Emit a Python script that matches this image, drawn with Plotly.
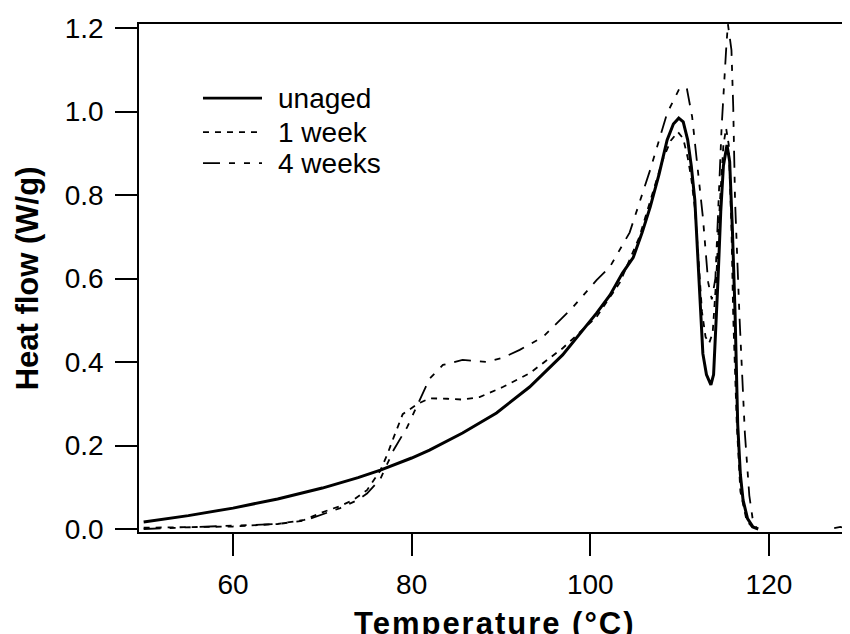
import plotly.graph_objects as go

# ---------------- data ----------------
t_unaged = [50, 55, 60, 65, 70, 74, 76.5, 80, 82, 85.7, 89.5, 93.2, 96.9, 100.7, 102.2,
            103.6, 104.8, 105.8, 106.7, 107.7, 108.6, 109.3, 109.9, 110.4, 110.9, 111.3,
            111.7, 112.0, 112.3, 112.6, 113.0, 113.5, 113.8, 114.0, 114.3, 114.6, 114.9,
            115.3, 115.6, 115.9, 116.2, 116.5, 116.8, 117.1, 117.6, 118.2, 118.8]
hf_unaged = [0.017, 0.032, 0.050, 0.072, 0.098, 0.123, 0.141, 0.170, 0.189, 0.230, 0.278,
             0.340, 0.417, 0.517, 0.560, 0.613, 0.650, 0.710, 0.771, 0.850, 0.932, 0.970,
             0.984, 0.975, 0.932, 0.870, 0.788, 0.670, 0.548, 0.420, 0.370, 0.345, 0.370,
             0.450, 0.600, 0.760, 0.870, 0.920, 0.880, 0.720, 0.520, 0.250, 0.130, 0.069,
             0.025, 0.005, 0.000]

t_1week = [50, 55, 60, 65, 68, 70, 72, 73.5, 75, 76.5, 77.3, 78, 79, 80.7, 82, 84, 85.7,
           87.6, 90.2, 93.2, 96.9, 100.7, 103.3, 105.5, 106.8, 108.1, 109.0, 109.8, 110.4,
           110.9, 111.3, 111.7, 112.1, 112.5, 112.9, 113.3, 113.7, 114.1, 114.5, 114.9,
           115.2, 115.5, 115.8, 116.0, 116.4, 116.8, 117.5, 118.3]
hf_1week = [0.003, 0.005, 0.006, 0.012, 0.022, 0.040, 0.055, 0.070, 0.093, 0.140, 0.180,
            0.220, 0.275, 0.300, 0.313, 0.312, 0.310, 0.316, 0.340, 0.373, 0.433, 0.508,
            0.590, 0.700, 0.790, 0.884, 0.930, 0.951, 0.935, 0.890, 0.840, 0.770, 0.650,
            0.520, 0.460, 0.445, 0.470, 0.600, 0.780, 0.920, 0.960, 0.920, 0.720, 0.508,
            0.250, 0.090, 0.020, 0.000]

t_4weeks = [50, 55, 60, 65, 68, 70, 72, 74, 75, 76.5, 78, 79.5, 81, 82, 83.5, 85.7, 88.4,
            90.2, 92.1, 94.7, 98.0, 100.7, 102.2, 104.4, 106.7, 108.6, 110.0, 110.8, 111.4,
            111.9, 112.6, 113.2, 113.6, 114.0, 114.4, 114.7, 115.2, 115.4, 115.8, 116.0,
            116.2, 116.7, 117.3, 117.8, 118.2, 118.6, None, 127.3, 128.0, 128.6]
hf_4weeks = [0.000, 0.004, 0.008, 0.012, 0.020, 0.035, 0.050, 0.070, 0.085, 0.120, 0.190,
             0.244, 0.316, 0.360, 0.393, 0.405, 0.400, 0.410, 0.429, 0.460, 0.530, 0.596,
             0.628, 0.710, 0.860, 0.996, 1.056, 1.056, 0.987, 0.884, 0.747, 0.590, 0.550,
             0.600, 0.800, 0.963, 1.147, 1.210, 1.147, 1.010, 0.788, 0.508, 0.230, 0.080,
             0.020, 0.005, None, 0.002, 0.005, 0.001]

series_names = ["unaged", "1 week", "4 weeks"]
x_ticks = [60, 80, 100, 120]
y_ticks = [0.0, 0.2, 0.4, 0.6, 0.8, 1.0, 1.2]
y_tick_text = ["0.0", "0.2", "0.4", "0.6", "0.8", "1.0", "1.2"]

FONT = "Liberation Sans, Arial, sans-serif"
styles = [dict(width=3, dash="solid"),
          dict(width=1.8, dash="6px,6px"),
          dict(width=1.8, dash="17px,9px,6px,9px,6px,9px")]

fig = go.Figure()
for t, hf, name, st in zip([t_unaged, t_1week, t_4weeks],
                           [hf_unaged, hf_1week, hf_4weeks], series_names, styles):
    fig.add_trace(go.Scatter(x=t, y=hf, mode="lines", name=name, showlegend=False,
                             connectgaps=False,
                             line=dict(color="black", width=st["width"], dash=st["dash"])))

# hand-built legend (sample lines + labels) in paper coordinates
legend_rows_y = [0.854, 0.787, 0.726]
shapes = []
annotations = []
for name, st, ly in zip(series_names, styles, legend_rows_y):
    shapes.append(dict(type="line", xref="paper", yref="paper", x0=0.090, x1=0.173,
                       y0=ly, y1=ly,
                       line=dict(color="black", width=st["width"] * (0.9 if st["dash"] == "solid" else 1),
                                 dash=st["dash"])))
    annotations.append(dict(text=name, xref="paper", yref="paper", x=0.1925, y=ly,
                            xanchor="left", yanchor="middle", showarrow=False,
                            font=dict(size=28, family=FONT, color="black")))

annotations.append(dict(text="<b><span style='letter-spacing:2px'>Temperature (°C)</span></b>",
                        xref="paper", yref="paper", x=0.5, y=-0.181,
                        xanchor="center", yanchor="middle", showarrow=False,
                        font=dict(size=31, family=FONT, color="black")))
annotations.append(dict(text="<b>Heat flow (W/g)</b>", xref="paper", yref="paper",
                        x=-0.157, y=0.5, xanchor="center", yanchor="middle",
                        showarrow=False, textangle=-90,
                        font=dict(size=31, family=FONT, color="black")))

# the page body adds an 8 px margin, so the figure is sized to fit the window exactly
fig.update_layout(
    width=842, height=626,
    margin=dict(l=131, r=0, t=16, b=102, pad=0),
    paper_bgcolor="white", plot_bgcolor="white",
    font=dict(family=FONT, size=28, color="black"),
    showlegend=False,
    xaxis=dict(range=[49.48, 129.07], tickvals=x_ticks, ticks="outside", ticklen=22,
               tickwidth=1.5, tickcolor="black", showline=True, linecolor="black",
               linewidth=1.5, mirror=True, showgrid=False, zeroline=False,
               ticklabelstandoff=5, automargin=False,
               tickfont=dict(size=28, family=FONT)),
    yaxis=dict(range=[-0.0072, 1.2096], tickvals=y_ticks, ticktext=y_tick_text,
               ticks="outside", ticklen=22, tickwidth=1.5, tickcolor="black",
               showline=True, linecolor="black", linewidth=1.5, mirror=False,
               showgrid=False, zeroline=False, ticklabelstandoff=6, automargin=False,
               tickfont=dict(size=28, family=FONT)),
    shapes=shapes,
    annotations=annotations,
)

fig.write_html("out.html")
